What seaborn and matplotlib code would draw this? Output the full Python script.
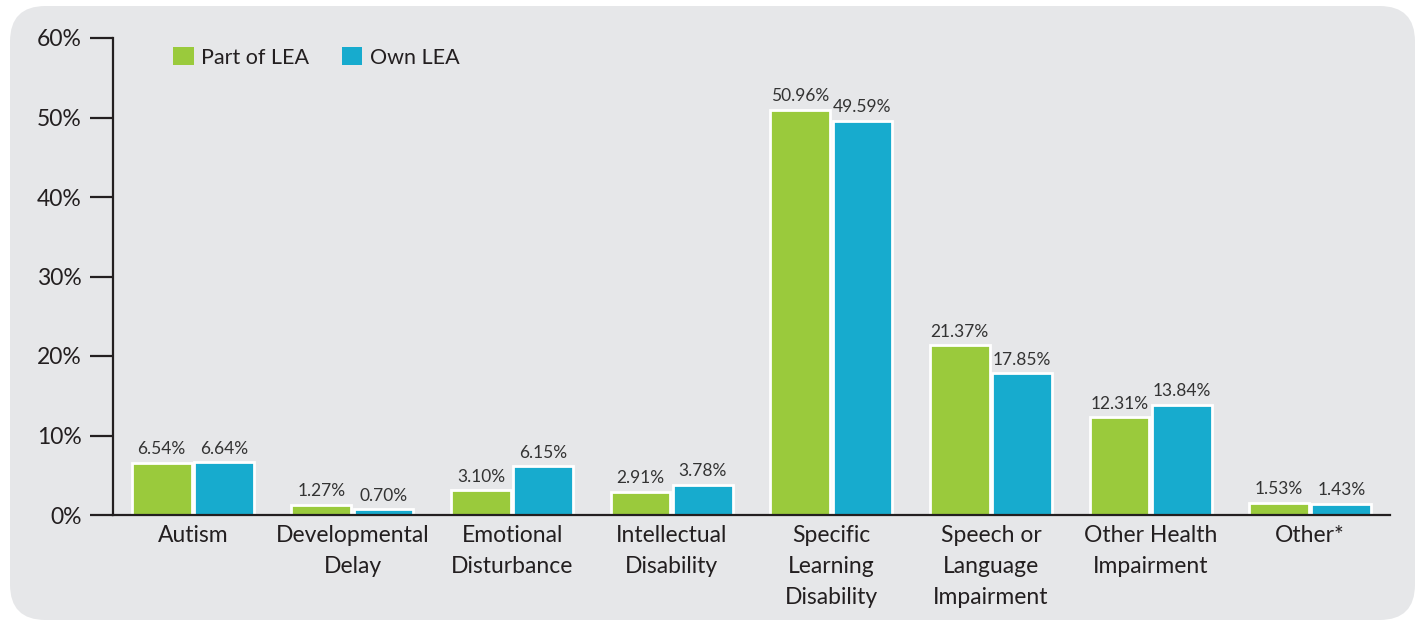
import matplotlib
matplotlib.use("Agg")
import matplotlib.pyplot as plt
import seaborn as sns
import pandas as pd
from matplotlib.patches import FancyBboxPatch
from matplotlib.ticker import FuncFormatter

categories = ["Autism", "Developmental\nDelay", "Emotional\nDisturbance", "Intellectual\nDisability",
              "Specific\nLearning\nDisability", "Speech or\nLanguage\nImpairment",
              "Other Health\nImpairment", "Other*"]
part_of_lea = [6.54, 1.27, 3.10, 2.91, 50.96, 21.37, 12.31, 1.53]
own_lea = [6.64, 0.70, 6.15, 3.78, 49.59, 17.85, 13.84, 1.43]
series = ["Part of LEA", "Own LEA"]
colors = ["#9aca3c", "#17abce"]

df = pd.DataFrame({
    "category": categories * 2,
    "value": part_of_lea + own_lea,
    "series": [series[0]] * len(categories) + [series[1]] * len(categories),
})

sns.set_theme(style="white")
plt.rcParams["font.family"] = ["Lato", "DejaVu Sans"]
dark = "#231f20"

fig = plt.figure(figsize=(14.2, 6.26), dpi=100, facecolor="white")
panel = FancyBboxPatch((10 / 1420, 6 / 626), 1405 / 1420, 614 / 626,
                       boxstyle="round,pad=0,rounding_size=0.025", mutation_aspect=1420 / 626,
                       transform=fig.transFigure, facecolor="#e6e7e9", edgecolor="none", zorder=-5)
fig.patches.append(panel)

ax = fig.add_axes([113 / 1420, 1 - 515 / 626, (1390 - 113) / 1420, (515 - 38) / 626])
ax.set_facecolor("none")

sns.barplot(data=df, x="category", y="value", hue="series", palette=colors,
            width=0.78, gap=0.04, edgecolor="white", linewidth=2, ax=ax, saturation=1)

for cont in ax.containers:
    ax.bar_label(cont, fmt="{:.2f}%", padding=4, fontsize=12.5, color="#333333")

ax.set_xlim(-0.5, 7.5)
ax.set_ylim(0, 60)
ax.set_yticks(range(0, 61, 10))
ax.yaxis.set_major_formatter(FuncFormatter(lambda v, p: f"{v:.0f}%"))
ax.set_xlabel("")
ax.set_ylabel("")

for s in ["top", "right"]:
    ax.spines[s].set_visible(False)
for s in ["left", "bottom"]:
    ax.spines[s].set_color(dark)
    ax.spines[s].set_linewidth(1.6)

ax.tick_params(axis="y", length=16.5, width=1.6, color=dark, labelsize=16.5, labelcolor=dark, pad=6, left=True)
ax.tick_params(axis="x", length=0, labelsize=16.5, labelcolor=dark, pad=7)
for lbl in ax.get_xticklabels():
    lbl.set_linespacing(1.6)

ax.legend(loc="upper left", bbox_to_anchor=(0.032, 1.022), ncol=2, frameon=False,
          fontsize=15.5, handlelength=0.95, handleheight=0.95, handletextpad=0.35,
          columnspacing=1.5, labelcolor=dark)
for h in ax.get_legend().legend_handles:
    h.set_edgecolor("none")

fig.savefig("out.png", dpi=100, facecolor="white")
